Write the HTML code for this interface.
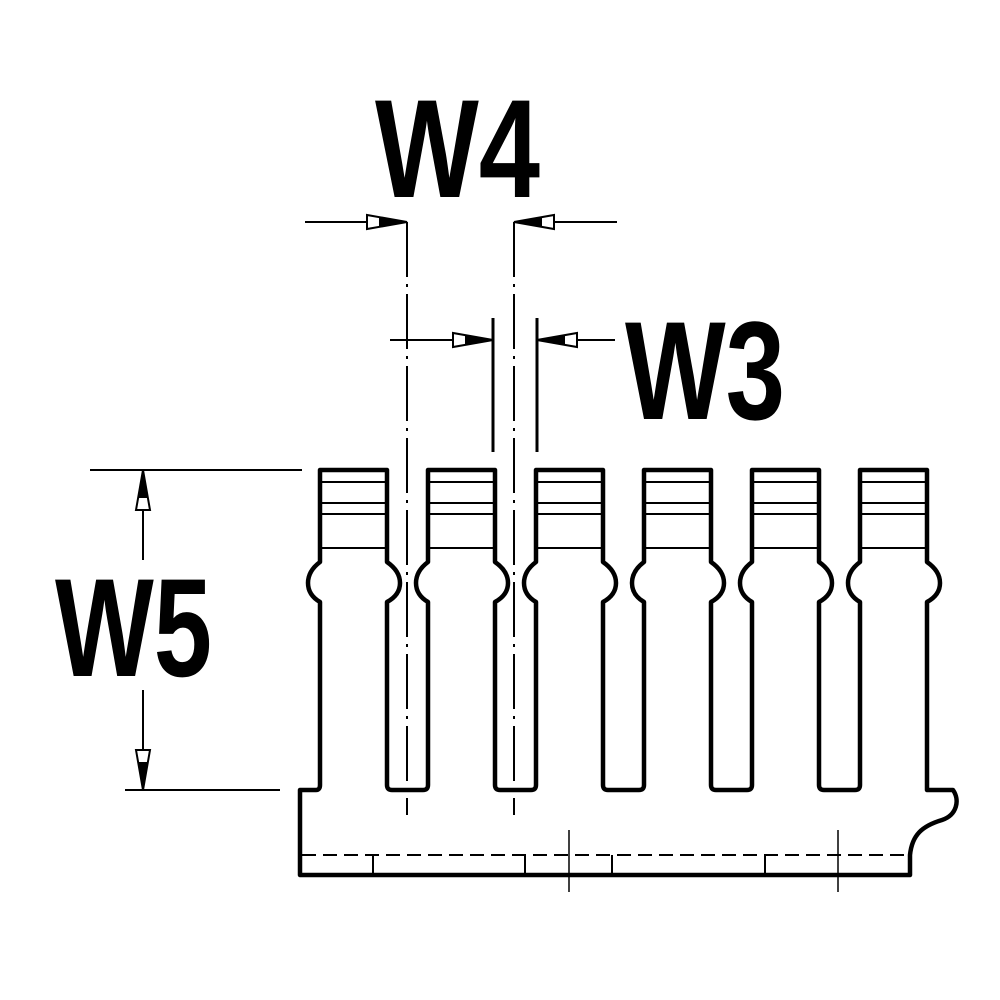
<!DOCTYPE html>
<html><head><meta charset="utf-8"><style>
html,body{margin:0;padding:0;background:#fff}
svg{display:block}
text{font-family:"Liberation Sans",sans-serif;font-weight:bold;fill:#000}
</style></head><body>
<svg width="1000" height="1000" viewBox="0 0 1000 1000" xmlns="http://www.w3.org/2000/svg">
<defs>
<g id="arr"><polygon points="0,0 -40,-7 -40,7" fill="#fff" stroke="#000" stroke-width="2"/><polygon points="0,0 -28,-5 -28,5" fill="#000"/></g>
</defs>
<text x="375" y="197" font-size="140" textLength="165" lengthAdjust="spacingAndGlyphs">W4</text>
<text x="625" y="419" font-size="140" textLength="160" lengthAdjust="spacingAndGlyphs">W3</text>
<text x="55" y="676" font-size="140" textLength="157" lengthAdjust="spacingAndGlyphs">W5</text>

<g stroke="#000" fill="none">
<line x1="407" y1="222" x2="407" y2="815" stroke-width="2" stroke-dasharray="55,7,3,7"/>
<line x1="514" y1="222" x2="514" y2="815" stroke-width="2" stroke-dasharray="55,7,3,7"/>
<line x1="493" y1="318" x2="493" y2="452" stroke-width="3"/>
<line x1="537" y1="318" x2="537" y2="452" stroke-width="3"/>
<line x1="305" y1="222" x2="407" y2="222" stroke-width="2"/>
<line x1="514" y1="222" x2="617" y2="222" stroke-width="2"/>
<line x1="390" y1="340" x2="493" y2="340" stroke-width="2"/>
<line x1="537" y1="340" x2="615" y2="340" stroke-width="2"/>
<line x1="90" y1="470" x2="302" y2="470" stroke-width="2"/>
<line x1="125" y1="790" x2="280" y2="790" stroke-width="2"/>
<line x1="143" y1="470" x2="143" y2="560" stroke-width="2"/>
<line x1="143" y1="690" x2="143" y2="790" stroke-width="2"/>
</g>
<use href="#arr" transform="translate(407,222)"/>
<use href="#arr" transform="translate(514,222) rotate(180)"/>
<use href="#arr" transform="translate(493,340)"/>
<use href="#arr" transform="translate(537,340) rotate(180)"/>
<use href="#arr" transform="translate(143,470) rotate(-90)"/>
<use href="#arr" transform="translate(143,790) rotate(90)"/>

<path fill="none" stroke="#000" stroke-width="4.5" stroke-linejoin="round" d="
M300,790 H316 Q320,790 320,785
V602 Q308,595 308,583 Q308,571 320,562 V470 H387 V562 Q400,571 400,583 Q400,595 387,602 V785 Q387,790 392,790 H423 Q428,790 428,785
V602 Q416,595 416,583 Q416,571 428,562 V470 H495 V562 Q508,571 508,583 Q508,595 495,602 V785 Q495,790 500,790 H531 Q536,790 536,785
V602 Q524,595 524,583 Q524,571 536,562 V470 H603 V562 Q616,571 616,583 Q616,595 603,602 V785 Q603,790 608,790 H639 Q644,790 644,785
V602 Q632,595 632,583 Q632,571 644,562 V470 H711 V562 Q724,571 724,583 Q724,595 711,602 V785 Q711,790 716,790 H747 Q752,790 752,785
V602 Q740,595 740,583 Q740,571 752,562 V470 H819 V562 Q832,571 832,583 Q832,595 819,602 V785 Q819,790 824,790 H855 Q860,790 860,785
V602 Q848,595 848,583 Q848,571 860,562 V470 H927 V562 Q940,571 940,583 Q940,595 927,602 V790 H953
C960,800 957,815 942,820 C922,826 912,835 910,855 V875 H300 Z"/>

<g stroke="#000" stroke-width="2">
<path d="M320,482H387M428,482H495M536,482H603M644,482H711M752,482H819M860,482H927"/>
<path d="M320,503H387M428,503H495M536,503H603M644,503H711M752,503H819M860,503H927"/>
<path d="M320,514H387M428,514H495M536,514H603M644,514H711M752,514H819M860,514H927"/>
<path d="M320,548H387M428,548H495M536,548H603M644,548H711M752,548H819M860,548H927"/>
<line x1="302" y1="855" x2="910" y2="855" stroke-dasharray="14,7"/>
<path d="M373,855V875M525,855V875M612,855V875M765,855V875"/>
<path d="M569,830V892M838,830V892" stroke-width="1.5"/>
</g>
</svg>
</body></html>
